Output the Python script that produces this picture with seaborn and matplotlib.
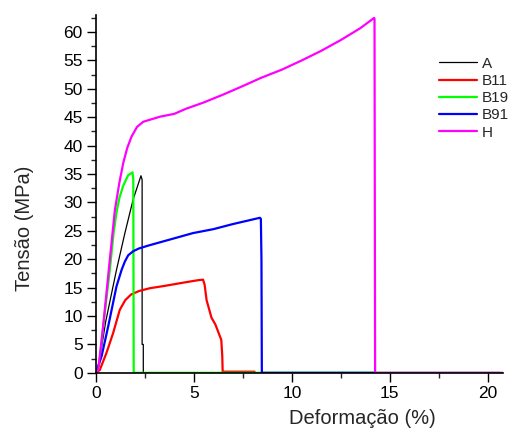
import numpy as np
import pandas as pd
import matplotlib
matplotlib.use("Agg")
import matplotlib.pyplot as plt
from matplotlib.ticker import MultipleLocator
from matplotlib.lines import Line2D
import seaborn as sns

# --- data ---
A_x = [0, 0.15, 0.5, 1.05, 1.48, 1.9, 2.3, 2.36, 2.36, 2.42, 2.42]
A_y = [0, 1.5, 9.0, 18.1, 24.6, 30.5, 34.7, 34.0, 5.0, 5.0, 0]

B11_x = [0, 0.2, 0.54, 0.88, 1.22, 1.5, 1.8, 2.2, 2.76, 3.5, 4.5, 5.2, 5.47, 5.55,
         5.65, 5.9, 6.1, 6.3, 6.4, 6.45, 6.47, 8.1]
B11_y = [0, 0.5, 3.5, 7.0, 11.1, 12.8, 13.8, 14.4, 14.9, 15.3, 15.9, 16.3, 16.4, 15.5,
         12.8, 9.7, 8.5, 6.7, 5.8, 3.0, 0.2, 0.2]

B19_x = [0, 0.15, 0.4, 0.71, 0.9, 1.05, 1.2, 1.39, 1.65, 1.87, 1.91, 1.93, 1.95, 20.6]
B19_y = [0, 1.0, 9.0, 18.1, 24.5, 28.2, 30.8, 32.9, 34.8, 35.3, 34.0, 0, 0, 0]

B91_x = [0, 0.29, 0.63, 1.05, 1.31, 1.48, 1.65, 1.9, 2.2, 2.67, 3.5, 4.95, 6, 7, 8.0,
         8.37, 8.42, 8.45, 8.47, 14.2]
B91_y = [0, 2.9, 8.2, 15.2, 18.1, 19.6, 20.7, 21.4, 21.9, 22.4, 23.2, 24.6, 25.3, 26.2,
         27.0, 27.3, 27.1, 20.0, 0, 0]

H_x = [0, 0.12, 0.37, 0.71, 0.97, 1.2, 1.4, 1.6, 1.82, 2.1, 2.41, 3.27, 4, 4.6,
       5.5, 6.5, 7.5, 8.4, 9.5, 10.5, 11.5, 12.5, 13.5, 14.2, 14.22, 14.25, 20.8]
H_y = [0, 0.5, 8.2, 19.9, 28.7, 33.5, 37.0, 39.6, 41.6, 43.3, 44.2, 45.1, 45.6, 46.5,
       47.6, 49.0, 50.5, 51.9, 53.4, 55.0, 56.7, 58.6, 60.7, 62.5, 62.3, 0, 0]

labels = ["A", "B11", "B19", "B91", "H"]
colors = ["#000000", "#ff0000", "#00ff00", "#0000ff", "#ff00ff"]
widths = [0.9, 1.6, 1.6, 1.6, 1.6]
series = [(A_x, A_y), (B11_x, B11_y), (B19_x, B19_y), (B91_x, B91_y), (H_x, H_y)]

frames = []
for lab, (xs, ys) in zip(labels, series):
    frames.append(pd.DataFrame({"x": xs, "y": ys, "amostra": lab}))
df = pd.concat(frames, ignore_index=True)

sns.set_style("ticks")
plt.rcParams["font.family"] = ["Liberation Sans", "DejaVu Sans"]

fig = plt.figure(figsize=(5.1, 4.3), dpi=100)
ax = fig.add_axes([0.188, 0.133, 0.798, 0.832])

sns.lineplot(data=df, x="x", y="y", hue="amostra", hue_order=labels,
             palette=dict(zip(labels, colors)), sort=False, estimator=None,
             units="amostra", linewidth=1.6, legend=False, ax=ax)
for line, w in zip(ax.get_lines(), widths):
    line.set_linewidth(w)

ax.set_xlim(0, 20.77)
ax.set_ylim(0, 63)
ax.xaxis.set_major_locator(MultipleLocator(5))
ax.xaxis.set_minor_locator(MultipleLocator(2.5))
ax.yaxis.set_major_locator(MultipleLocator(5))
ax.yaxis.set_minor_locator(MultipleLocator(2.5))
ax.tick_params(which="major", direction="out", length=6.5, width=1, labelsize=12.5,
               colors="black", pad=3)
ax.tick_params(which="minor", direction="out", length=3.6, width=1)
sns.despine(ax=ax)
for s in ["left", "bottom"]:
    ax.spines[s].set_linewidth(1.2)
    ax.spines[s].set_color("black")

ax.set_xlabel("Deformação (%)", fontsize=14.5)
ax.set_ylabel("Tensão (MPa)", fontsize=14.5)
ax.xaxis.set_label_coords(0.654, -0.1)
ax.yaxis.set_label_coords(-0.152, 0.405)

handles = [Line2D([], [], color=c, linewidth=w) for c, w in zip(colors, widths)]
fig.legend(handles, labels, loc="upper left", bbox_to_anchor=(0.861, 0.868),
           frameon=False, fontsize=11, handlelength=2.5, handletextpad=0.3,
           labelspacing=0.21, borderpad=0, borderaxespad=0)

fig.savefig("out.png", dpi=100)
